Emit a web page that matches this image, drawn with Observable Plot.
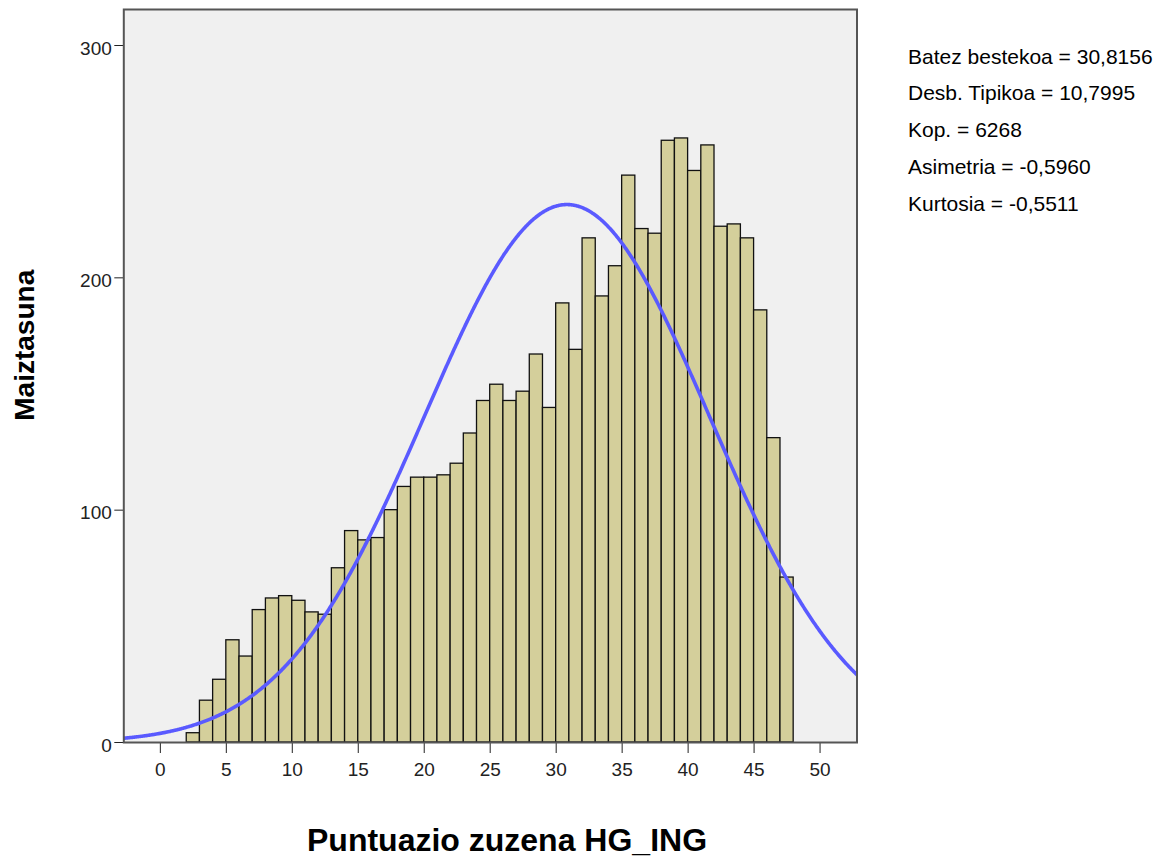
<!DOCTYPE html>
<html><head><meta charset="utf-8">
<script src="https://cdn.jsdelivr.net/npm/d3@7"></script>
<script src="https://cdn.jsdelivr.net/npm/@observablehq/plot@0.6"></script>
<style>body{margin:0;background:#fff;} #chart svg{display:block}</style>
</head><body><div id="chart"></div>
<script>
// Histogram bins (score intervals) and frequencies
const binStart = [2,3,4,5,6,7,8,9,10,11,12,13,14,15,16,17,18,19,20,21,22,23,24,25,26,27,28,29,30,31,32,33,34,35,36,37,38,39,40,41,42,43,44,45,46,47];
const binEnd   = [3,4,5,6,7,8,9,10,11,12,13,14,15,16,17,18,19,20,21,22,23,24,25,26,27,28,29,30,31,32,33,34,35,36,37,38,39,40,41,42,43,44,45,46,47,48];
const counts   = [4,18,27,44,37,57,62,63,61,56,55,75,91,87,88,100,110,114,114,115,120,133,147,154,147,151,167,144,189,169,217,192,205,244,221,219,259,260,246,257,222,223,217,186,131,71];

const xTicks = [0,5,10,15,20,25,30,35,40,45,50];
const yTicks = [0,100,200,300];

const statLabels = ["Batez bestekoa","Desb. Tipikoa","Kop.","Asimetria","Kurtosia"];
const statValues = ["30,8156","10,7995","6268","-0,5960","-0,5511"];

const xLabel = "Puntuazio zuzena HG_ING";
const yLabel = "Maiztasuna";

// Fitted normal curve from the stated statistics
const num = s => parseFloat(s.replace(",", "."));
const mean = num(statValues[0]), sd = num(statValues[1]), n = num(statValues[2]);
const binWidth = 1;
const xDomain = [-2.77, 52.8];
const curve = d3.range(xDomain[0], xDomain[1] + 0.05, 0.05).map(x => ({
  x, y: n * binWidth * Math.exp(-0.5 * ((x - mean) / sd) ** 2) / (sd * Math.sqrt(2 * Math.PI))
}));

const bars = binStart.map((b, i) => ({x1: b, x2: binEnd[i], count: counts[i]}));
const statsText = statLabels.map((l, i) => `${l} = ${statValues[i]}`).join("\n");

const font = "'Liberation Sans', Arial, Helvetica, sans-serif";

const chart = Plot.plot({
  width: 1168, height: 859,
  marginLeft: 123.3, marginRight: 1168 - 856.5, marginTop: 9, marginBottom: 117,
  x: {domain: xDomain, ticks: xTicks, tickSize: 11, tickPadding: 9, tickFormat: d => String(d), label: null},
  y: {domain: [0, 315.5], ticks: yTicks, tickSize: 9, tickPadding: 3, tickFormat: () => "", label: null},
  style: {fontFamily: font, fontSize: "19px", background: "#fff", color: "#222"},
  marks: [
    Plot.frame({fill: "#f0f0f0", stroke: null}),
    Plot.rectY(bars, {x1: "x1", x2: "x2", y: "count", fill: "#d4cf9b", stroke: "#111", strokeWidth: 1.3}),
    Plot.line(curve, {x: "x", y: "y", stroke: "#5a5aff", strokeWidth: 3.6, clip: true}),
    Plot.frame({stroke: "#555", strokeWidth: 2}),
    Plot.text(yTicks, {y: d => d, text: d => String(d), frameAnchor: "left", textAnchor: "end", dx: -12, dy: 3, fontSize: 19, fill: "#222"}),
    Plot.text([xLabel], {text: d => d, frameAnchor: "bottom", textAnchor: "middle", dx: 16.6, dy: 108, lineAnchor: "bottom", fontSize: 32, fontWeight: "bold", fill: "#000"}),
    Plot.text([yLabel], {text: d => d, frameAnchor: "left", textAnchor: "middle", rotate: -90, dx: -90, dy: -30.75, lineAnchor: "bottom", fontSize: 28, fontWeight: "bold", fill: "#000"}),
    Plot.text([statsText], {text: d => d, frameAnchor: "top-right", textAnchor: "start", lineAnchor: "top", dx: 51, dy: 28, fontSize: 21, lineHeight: 1.75, fill: "#000"})
  ]
});
document.getElementById("chart").appendChild(chart);
</script>
</body></html>
